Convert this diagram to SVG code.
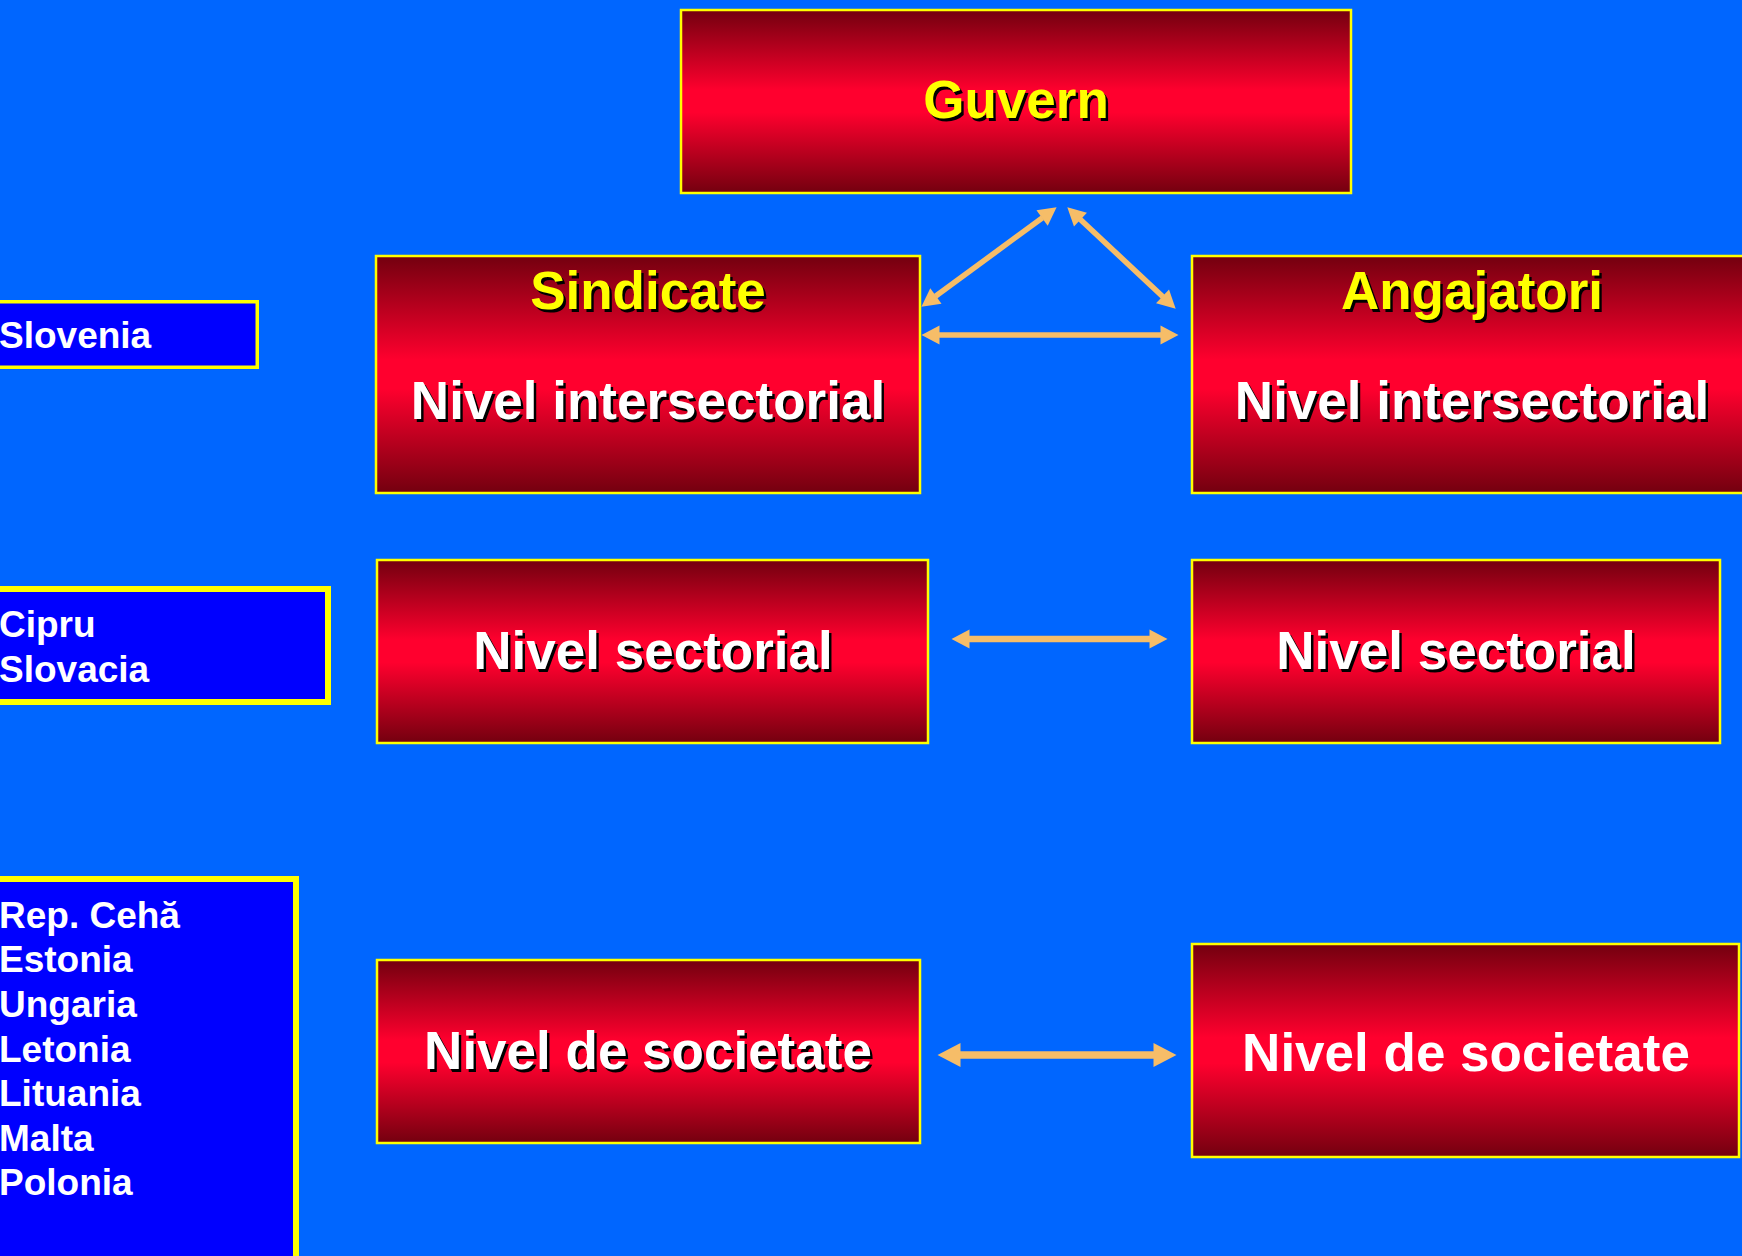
<svg xmlns="http://www.w3.org/2000/svg" xmlns:xlink="http://www.w3.org/1999/xlink" width="1742" height="1256" viewBox="0 0 1742 1256">
<defs>
<linearGradient id="red" x1="0" y1="0" x2="0" y2="1">
<stop offset="0" stop-color="#73000f"/>
<stop offset="0.44" stop-color="#ff002e"/>
<stop offset="0.56" stop-color="#ff002e"/>
<stop offset="1" stop-color="#73000f"/>
</linearGradient>
<marker id="h1" markerUnits="userSpaceOnUse" markerWidth="18" markerHeight="19" viewBox="0 0 18 19" refX="0.5" refY="9.5" orient="auto-start-reverse" overflow="visible">
<path d="M0,0 L18,9.5 L0,19 z" fill="#f6bd68"/>
</marker>
<marker id="h2" markerUnits="userSpaceOnUse" markerWidth="23" markerHeight="24" viewBox="0 0 23 24" refX="0.5" refY="12" orient="auto-start-reverse" overflow="visible">
<path d="M0,0 L23,12 L0,24 z" fill="#f6bd68"/>
</marker>
</defs>
<style>
.box{fill:url(#red);stroke:#ffff00;stroke-width:2.5}
.blue{fill:#0000ff;stroke:#ffff00}
.t{font-family:"Liberation Sans",Arial,sans-serif;font-weight:bold;font-size:53px;text-anchor:middle}
.y{fill:#ffff00}
.w{fill:#ffffff}
.sh{fill:#000000}
.c{font-family:"Liberation Sans",Arial,sans-serif;font-weight:bold;font-size:37px;fill:#ffffff}
.a{fill:none;stroke:#f6bd68}
</style>
<rect x="0" y="0" width="1742" height="1256" fill="#0066ff"/>

<g id="slovenia">
<rect class="blue" x="-10" y="301.75" width="267.25" height="65.5" stroke-width="3.5"/>
<text class="c" x="-1" y="348">Slovenia</text>
</g>
<g id="cipru-slovacia">
<rect class="blue" x="-10" y="589" width="338" height="113" stroke-width="6"/>
<text class="c" x="-1" y="637">Cipru</text>
<text class="c" x="-1" y="682">Slovacia</text>
</g>
<g id="lista-tari">
<rect class="blue" x="-10" y="879" width="306" height="400" stroke-width="6"/>
<text class="c" x="-1" y="928">Rep. Cehă</text>
<text class="c" x="-1" y="972">Estonia</text>
<text class="c" x="-1" y="1017">Ungaria</text>
<text class="c" x="-1" y="1062">Letonia</text>
<text class="c" x="-1" y="1106">Lituania</text>
<text class="c" x="-1" y="1151">Malta</text>
<text class="c" x="-1" y="1195">Polonia</text>
</g>

<g id="guvern">
<rect class="box" x="681" y="10" width="670" height="183"/>
<text class="t sh" x="1018.5" y="120.5">Guvern</text>
<text class="t y" x="1016" y="118">Guvern</text>
</g>
<g id="sindicate">
<rect class="box" x="376" y="256" width="544" height="237"/>
<text class="t sh" x="650.5" y="311.5">Sindicate</text>
<text class="t y" x="648" y="309">Sindicate</text>
<text class="t sh" x="650.5" y="421.5">Nivel intersectorial</text>
<text class="t w" x="648" y="419">Nivel intersectorial</text>
</g>
<g id="angajatori">
<rect class="box" x="1192" y="256" width="570" height="237"/>
<text class="t sh" x="1474.5" y="311.5">Angajatori</text>
<text class="t y" x="1472" y="309">Angajatori</text>
<text class="t sh" x="1474.5" y="421.5">Nivel intersectorial</text>
<text class="t w" x="1472" y="419">Nivel intersectorial</text>
</g>
<g id="sectorial-sindicate">
<rect class="box" x="377" y="560" width="551" height="183"/>
<text class="t sh" x="655.5" y="671.5">Nivel sectorial</text>
<text class="t w" x="653" y="669">Nivel sectorial</text>
</g>
<g id="sectorial-angajatori">
<rect class="box" x="1192" y="560" width="528" height="183"/>
<text class="t sh" x="1458.5" y="671.5">Nivel sectorial</text>
<text class="t w" x="1456" y="669">Nivel sectorial</text>
</g>
<g id="societate-sindicate">
<rect class="box" x="377" y="960" width="543" height="183"/>
<text class="t sh" x="650.5" y="1071.5">Nivel de societate</text>
<text class="t w" x="648" y="1069">Nivel de societate</text>
</g>
<g id="societate-angajatori">
<rect class="box" x="1192" y="944" width="547" height="213"/>
<text class="t w" x="1466" y="1071">Nivel de societate</text>
</g>

<g id="connectors">
<line class="a" x1="935.5" y1="296.3" x2="1042.5" y2="217.7" stroke-width="5.5" marker-start="url(#h1)" marker-end="url(#h1)"/>
<line class="a" x1="1080.1" y1="219.3" x2="1162.9" y2="296.7" stroke-width="5.5" marker-start="url(#h1)" marker-end="url(#h1)"/>
<line class="a" x1="939" y1="335" x2="1161" y2="335" stroke-width="5.5" marker-start="url(#h1)" marker-end="url(#h1)"/>
<line class="a" x1="969" y1="639" x2="1150" y2="639" stroke-width="6.5" marker-start="url(#h1)" marker-end="url(#h1)"/>
<line class="a" x1="960" y1="1055" x2="1154" y2="1055" stroke-width="7.5" marker-start="url(#h2)" marker-end="url(#h2)"/>
</g>
</svg>
